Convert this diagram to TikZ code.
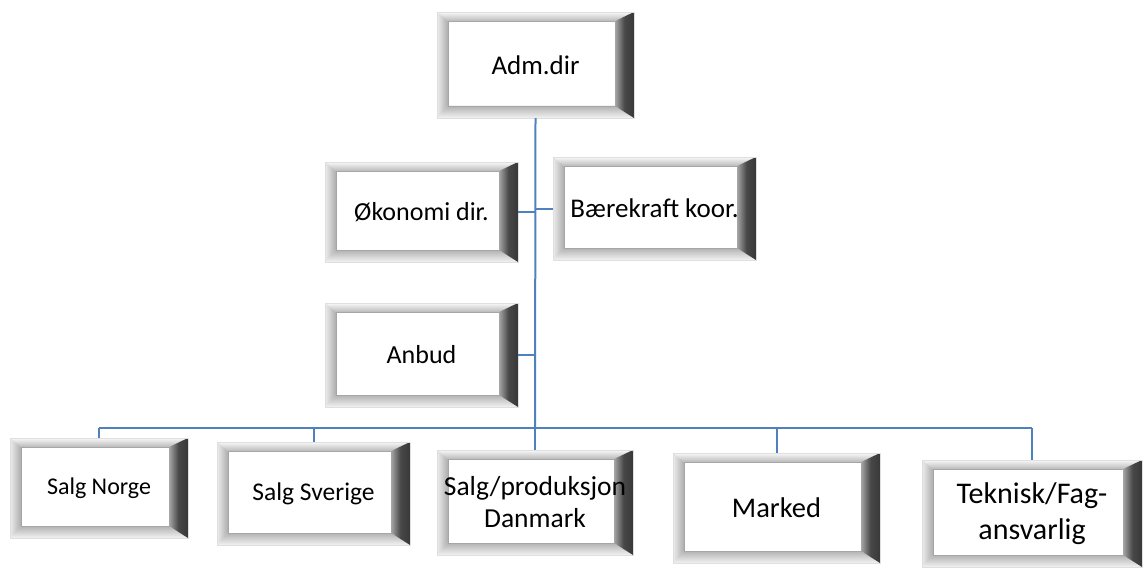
\documentclass[tikz,border=0pt]{standalone}
\usepackage{fontspec}
\setmainfont{Carlito}
\usetikzlibrary{calc}
\definecolor{linkblue}{RGB}{79,129,189}
\begin{document}
\begin{tikzpicture}[x=1pt,y=-1pt,line join=round]
	\tikzset{
		bevel/.style={path picture={
			\coordinate (bnw) at (path picture bounding box.north west);
			\coordinate (bne) at (path picture bounding box.north east);
			\coordinate (bse) at (path picture bounding box.south east);
			\coordinate (bsw) at (path picture bounding box.south west);
			\coordinate (inw) at ([xshift=11pt,yshift=-9pt]bnw);
			\coordinate (ine) at ([xshift=-19pt,yshift=-9pt]bne);
			\coordinate (ise) at ([xshift=-19pt,yshift=12pt]bse);
			\coordinate (isw) at ([xshift=11pt,yshift=12pt]bsw);
			\shade[top color=gray!5,bottom color=gray!55] (bnw)--(bne)--(ine)--(inw)--cycle;
			\shade[left color=gray!15,right color=gray!65] (bnw)--(inw)--(isw)--(bsw)--cycle;
			\shade[top color=gray!60,bottom color=gray!10] (isw)--(ise)--(bse)--(bsw)--cycle;
			\shade[left color=gray!70,right color=black!78,middle color=black!72] (ine)--(bne)--(bse)--(ise)--cycle;
			\draw[gray!70,thin] (inw) rectangle (ise);
		}},
		unit/.style={rectangle,fill=white,draw=gray!25,thin,inner sep=0pt,align=center,
			font=\fontsize{26}{31}\selectfont,bevel},
		link/.style={draw=linkblue,line width=2pt}
	}
	\useasboundingbox (0,0) rectangle (1147,567);
	% top
	\node[unit,minimum width=197,minimum height=106,font=\fontsize{27}{32}\selectfont] (adm) at (535.5,65) {Adm.dir};
	% staff
	\node[unit,minimum width=193,minimum height=100] (oko) at (421.5,212) {Økonomi dir.};
	\node[unit,minimum width=203,minimum height=103,font=\fontsize{27}{32}\selectfont] (baer) at (654.5,208.5) {Bærekraft koor.};
	\node[unit,minimum width=193,minimum height=104] (anbud) at (421.5,355) {Anbud};
	% line units
	\node[unit,minimum width=178,minimum height=100,font=\fontsize{24}{29}\selectfont] (norge) at (99,488) {Salg Norge};
	\node[unit,minimum width=193,minimum height=103,font=\fontsize{25.5}{30}\selectfont] (sverige) at (313.5,493.5) {Salg Sverige};
	\node[unit,minimum width=196,minimum height=105,font=\fontsize{27.5}{32}\selectfont] (danmark) at (535,502.5) {Salg/produksjon\\Danmark};
	\node[unit,minimum width=207,minimum height=110,font=\fontsize{28.5}{34}\selectfont] (marked) at (776.5,508) {Marked};
	\node[unit,minimum width=220,minimum height=107,font=\fontsize{30}{36}\selectfont] (tek) at (1032,513.5) {Teknisk/Fag-\\ansvarlig};
	% connectors
	\coordinate (bus) at (535,428);
	\draw[link] (adm.south) -- (bus);
	\draw[link] (oko.east) -- (oko.east -| adm.south);
	\draw[link] (baer.west) -- (baer.west -| adm.south);
	\draw[link] (anbud.east) -- (anbud.east -| adm.south);
	\draw[link] (norge.north |- bus) -- (tek.north |- bus);
	\foreach \u in {norge,sverige,danmark,marked,tek}
		\draw[link] (\u.north) -- (\u.north |- bus);
\end{tikzpicture}
\end{document}
